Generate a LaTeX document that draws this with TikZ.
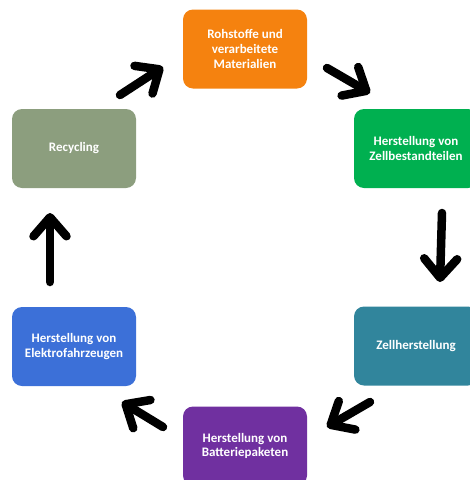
\documentclass[tikz,border=0pt]{standalone}
\usepackage{fontspec}
\setmainfont{Carlito}
\usetikzlibrary{arrows.meta}
\definecolor{rohorange}{HTML}{F5820F}
\definecolor{zellgruen}{HTML}{00B050}
\definecolor{zellteal}{HTML}{31859C}
\definecolor{paketlila}{HTML}{7030A0}
\definecolor{fahrzeugblau}{HTML}{3C70D8}
\definecolor{recyclinggrau}{HTML}{8C9E7E}
\tikzset{
    stufe/.style={rectangle, rounded corners=10pt, minimum width=124pt,
        minimum height=79pt, inner sep=0pt, text=white, align=center,
        font=\bfseries\fontsize{13}{14.8}\selectfont},
    pfeil/.style={line width=8.5pt, line cap=round, line join=round,
        -{Straight Barb[length=19pt,width=33pt,round]}}
}

\begin{document}
\begin{tikzpicture}[x=1pt,y=-1pt]
    \clip (0,0) rectangle (470,480);
    \path
        (245,49) node[stufe, fill=rohorange] (roh)
        {Rohstoffe und\\verarbeitete\\Materialien}
        (416,148.5) node[stufe, fill=zellgruen] (teile)
        {Herstellung von\\Zellbestandteilen}
        (416,346) node[stufe, fill=zellteal] (zelle) {Zellherstellung}
        (245,446) node[stufe, fill=paketlila] (paket)
        {Herstellung von\\Batteriepaketen}
        (74,346.5) node[stufe, fill=fahrzeugblau] (fahrzeug)
        {Herstellung von\\Elektrofahrzeugen}
        (74,148.5) node[stufe, fill=recyclinggrau] (recycling) {Recycling};
    % Pfeile im Kreis
    \path
        (120,95) coordinate (p1a)   (163,67) coordinate (p1b)
        (327,68) coordinate (p2a)   (370,93) coordinate (p2b)
        (442,213) coordinate (p3a)  (440,282) coordinate (p3b)
        (370,402) coordinate (p4a)  (327,427) coordinate (p4b)
        (163,427) coordinate (p5a)  (122,402) coordinate (p5b)
        (50,282) coordinate (p6a)   (50,213) coordinate (p6b);
    \draw[pfeil] (p1a) -- (p1b);
    \draw[pfeil] (p2a) -- (p2b);
    \draw[pfeil] (p3a) -- (p3b);
    \draw[pfeil] (p4a) -- (p4b);
    \draw[pfeil] (p5a) -- (p5b);
    \draw[pfeil] (p6a) -- (p6b);
\end{tikzpicture}
\end{document}
